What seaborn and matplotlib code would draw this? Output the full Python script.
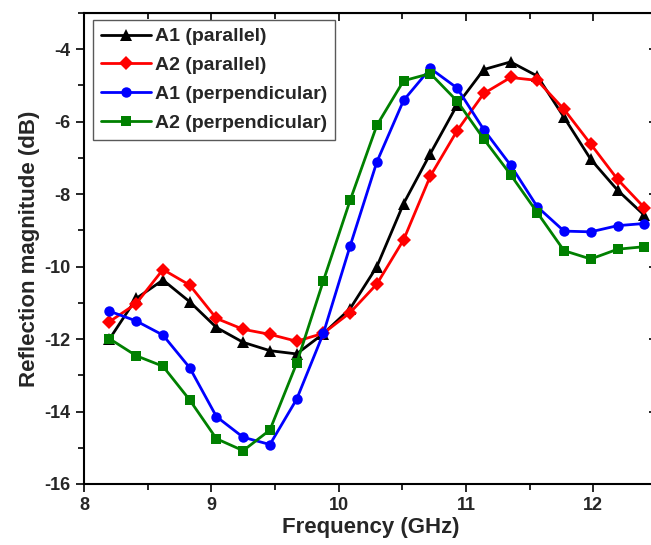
import numpy as np
import pandas as pd
import seaborn as sns
import matplotlib.pyplot as plt
from matplotlib.ticker import MultipleLocator

# Frequency points where the markers sit (GHz)
freq = [8.20, 8.41, 8.62, 8.83, 9.04, 9.25, 9.46, 9.67, 9.88, 10.09, 10.30,
        10.51, 10.72, 10.93, 11.14, 11.35, 11.56, 11.77, 11.98, 12.19, 12.40]

# Reflection magnitude (dB)
a1_par = [-12.00, -10.88, -10.37, -10.97, -11.68, -12.09, -12.32, -12.41, -11.85, -11.16, -10.00,
          -8.26, -6.88, -5.54, -4.56, -4.35, -4.74, -5.88, -7.04, -7.89, -8.58]
a2_par = [-11.52, -11.02, -10.08, -10.51, -11.43, -11.73, -11.87, -12.06, -11.84, -11.27, -10.48,
          -9.26, -7.50, -6.25, -5.22, -4.78, -4.86, -5.66, -6.62, -7.59, -8.37]
a1_perp = [-11.23, -11.50, -11.89, -12.79, -14.14, -14.71, -14.91, -13.66, -11.84, -9.43, -7.11,
           -5.41, -4.53, -5.07, -6.22, -7.20, -8.35, -9.02, -9.04, -8.87, -8.81]
a2_perp = [-11.99, -12.46, -12.75, -13.68, -14.75, -15.08, -14.51, -12.67, -10.39, -8.17, -6.10,
           -4.87, -4.67, -5.43, -6.48, -7.46, -8.51, -9.56, -9.79, -9.52, -9.45]

labels = ['A1 (parallel)', 'A2 (parallel)', 'A1 (perpendicular)', 'A2 (perpendicular)']
series = [a1_par, a2_par, a1_perp, a2_perp]
colors = ['black', '#ff0000', '#0000ff', '#008000']
markers = ['^', 'D', 'o', 's']
msizes = [8.5, 7, 7.5, 7]

sns.set_style('ticks')
plt.rcParams['font.family'] = ['Liberation Sans', 'DejaVu Sans']
plt.rcParams['font.weight'] = 'bold'
plt.rcParams['axes.unicode_minus'] = False

fig = plt.figure(figsize=(6.51, 5.45), dpi=100)
# axes run slightly past the right edge, like the cropped original
ax = fig.add_axes([84 / 651, 61 / 545, 573 / 651, 471 / 545])

for lab, vals, c, m, ms in zip(labels, series, colors, markers, msizes):
    df = pd.DataFrame({'Frequency': freq, 'S11': vals})
    sns.lineplot(data=df, x='Frequency', y='S11', ax=ax, color=c, marker=m,
                 markersize=ms, markeredgewidth=0, linewidth=2.0, label=lab)

ax.set_xlim(8, 12.5)
ax.set_ylim(-16, -3)
ax.xaxis.set_major_locator(MultipleLocator(1))
ax.xaxis.set_minor_locator(MultipleLocator(0.5))
ax.yaxis.set_major_locator(MultipleLocator(2))
ax.yaxis.set_minor_locator(MultipleLocator(1))
ax.tick_params(which='major', direction='out', length=6, width=1.4, labelsize=13)
ax.tick_params(which='minor', direction='out', length=4, width=1.4)
for s in ax.spines.values():
    s.set_linewidth(1.5)
    s.set_visible(True)
    s.set_color('black')

# mirrored ticks on top and right pointing inward
top = ax.secondary_xaxis('top')
top.xaxis.set_major_locator(MultipleLocator(1))
top.xaxis.set_minor_locator(MultipleLocator(0.5))
top.tick_params(which='both', direction='in', labeltop=False, width=1.4)
top.tick_params(which='major', length=6)
top.tick_params(which='minor', length=4)
right = ax.secondary_yaxis('right')
right.yaxis.set_major_locator(MultipleLocator(2))
right.yaxis.set_minor_locator(MultipleLocator(1))
right.tick_params(which='both', direction='in', labelright=False, width=1.4)
right.tick_params(which='major', length=6)
right.tick_params(which='minor', length=4)

ax.set_xlabel('Frequency (GHz)', fontsize=16, fontweight='bold', labelpad=2)
ax.set_ylabel('Reflection magnitude (dB)', fontsize=16, fontweight='bold', labelpad=3)

leg = ax.legend(loc='upper left', bbox_to_anchor=(9 / 573, 1 - 7 / 471), borderaxespad=0,
                fontsize=14, handlelength=2.6, handletextpad=0.2, labelspacing=0.58,
                borderpad=0.4, fancybox=False, framealpha=1)
leg.get_frame().set_edgecolor('0.35')
leg.get_frame().set_linewidth(1.0)
for t in leg.get_texts():
    t.set_fontweight('bold')

plt.savefig('out.png', dpi=100)
plt.close()
